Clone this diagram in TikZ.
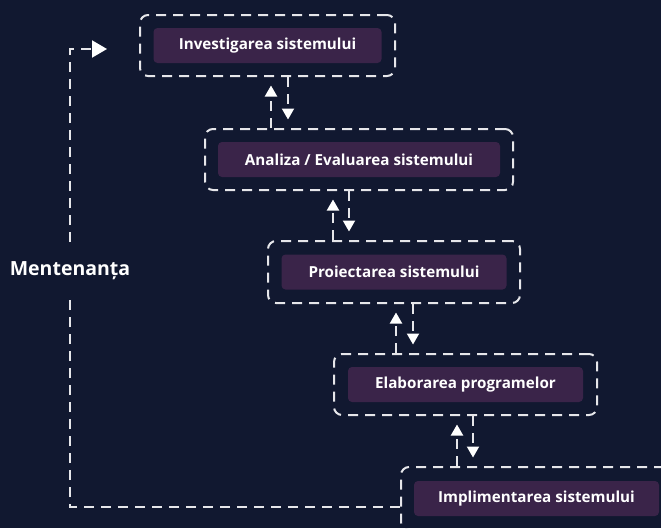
\documentclass[tikz,border=0pt]{standalone}
\usepackage{fontspec}
\setmainfont{Open Sans}
\usetikzlibrary{arrows.meta}
\definecolor{bg}{HTML}{111830}
\definecolor{boxfill}{HTML}{3A2449}
\definecolor{dashc}{HTML}{E6E6EA}
\begin{document}
\begin{tikzpicture}[x=1pt,y=-1pt,
  outer/.style={draw=dashc, line width=2pt, dash pattern=on 10pt off 7pt, rounded corners=8pt, minimum height=61pt, inner sep=0pt},
  inner/.style={fill=boxfill, rounded corners=4pt, minimum height=35pt, text=white, font=\bfseries\fontsize{15.2}{17}\selectfont, inner sep=0pt},
  flow/.style={draw=dashc, line width=2pt, dash pattern=on 10pt off 7pt, -{Triangle[length=11pt,width=12pt,color=white]}, shorten >=8.5pt},
  loopline/.style={draw=dashc, line width=2pt, dash pattern=on 10pt off 7pt, -{Triangle[length=15pt,width=17pt,color=white]}}]
\fill[bg] (0,0) rectangle (661,528);
\useasboundingbox (0,0) rectangle (661,528);
\clip (0,0) rectangle (661,528);
% outer dashed frames
\node[outer, minimum width=255pt] (b1) at (267.5,45.5) {};
\node[outer, minimum width=308pt] (b2) at (359,159.5) {};
\node[outer, minimum width=252pt, minimum height=62pt] (b3) at (394,272) {};
\node[outer, minimum width=263pt] (b4) at (465.5,384.5) {};
\node[outer, minimum width=271pt, minimum height=63pt] (b5) at (536.5,498.5) {};
% inner boxes
\node[inner, minimum width=228pt] (i1) at (b1.center) {Investigarea sistemului};
\node[inner, minimum width=282pt] (i2) at (b2.center) {Analiza / Evaluarea sistemului};
\node[inner, minimum width=225pt] (i3) at (b3.center) {Proiectarea sistemului};
\node[inner, minimum width=235pt] (i4) at (b4.center) {Elaborarea programelor};
\node[inner, minimum width=245pt] (i5) at (b5.center) {Implimentarea sistemului};
% arrows between stages
\draw[flow] ([xshift=-88pt]b2.north) -- ([xshift=-88pt]b2.north |- b1.south);
\draw[flow] ([xshift=20.5pt]b1.south) -- ([xshift=20.5pt]b1.south |- b2.north);
\draw[flow] ([xshift=-61pt]b3.north) -- ([xshift=-61pt]b3.north |- b2.south);
\draw[flow] ([xshift=-10pt]b2.south) -- ([xshift=-10pt]b2.south |- b3.north);
\draw[flow] ([xshift=-69.5pt]b4.north) -- ([xshift=-69.5pt]b4.north |- b3.south);
\draw[flow] ([xshift=19pt]b3.south) -- ([xshift=19pt]b3.south |- b4.north);
\draw[flow] ([xshift=-79.5pt]b5.north) -- ([xshift=-79.5pt]b5.north |- b4.south);
\draw[flow] ([xshift=7.5pt]b4.south) -- ([xshift=7.5pt]b4.south |- b5.north);
% maintenance loop
\coordinate (mc) at (70,271);
\draw[loopline] ([yshift=-8.5pt]b5.west) -| (mc) |- ([xshift=-32pt,yshift=-3.5pt]b1.west);
\node[fill=bg, text=white, font=\bfseries\fontsize{19.5}{21}\selectfont, inner xsep=2pt, minimum height=50pt] (m) at (mc) {Mentenanța};
\end{tikzpicture}
\end{document}
